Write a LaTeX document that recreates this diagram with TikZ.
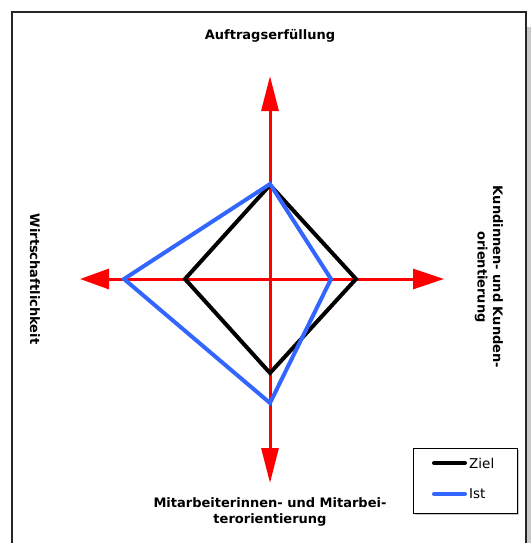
\documentclass[tikz,border=0pt]{standalone}
\usepackage{fontspec}
\setmainfont{DejaVu Sans}
\usetikzlibrary{positioning,arrows.meta}
\definecolor{axisred}{HTML}{FF0000}
\definecolor{istblue}{HTML}{3366FF}
\definecolor{shadowgray}{HTML}{C8C8C8}

\tikzset{
    axisline/.style={draw=axisred, line width=3pt},
    ziel/.style={draw=black, line width=4pt, miter limit=10},
    ist/.style={draw=istblue, line width=4pt, miter limit=10},
    axislabel/.style={font=\bfseries\fontsize{13}{15.5}\selectfont, align=center, inner sep=0pt},
    legendtext/.style={font=\fontsize{13.5}{16}\selectfont, anchor=west, inner sep=1pt}
}

\begin{document}
\begin{tikzpicture}[x=1pt, y=-1pt]
    \useasboundingbox (0,0) rectangle (531,543);

    % Frame with shadow
    \fill[shadowgray] (527,27) rectangle (531,543);
    \draw[line width=1.5pt, black!85] (12,560) -- (12,12) -- (526,12) -- (526,560);

    % Axis end points
    \coordinate (O) at (270,279);
    \coordinate (N) at (270,76);
    \coordinate (S) at (270,483);
    \coordinate (W) at (80,279);
    \coordinate (E) at (444,279);

    % Axes
    \draw[axisline, {Triangle[length=35pt,width=17pt]}-{Triangle[length=35pt,width=17pt]}] (S) -- (N);
    \draw[axisline, {Triangle[length=29pt,width=20pt]}-{Triangle[length=31pt,width=20pt]}] (W) -- (E);

    % Ziel
    \coordinate (zN) at (270,185);
    \coordinate (zE) at (356,279);
    \coordinate (zS) at (270,373);
    \coordinate (zW) at (185,279);
    \draw[ziel] (zN) -- (zE) -- (zS) -- (zW) -- cycle;

    % Ist
    \coordinate (iN) at (270,184);
    \coordinate (iE) at (331,279);
    \coordinate (iS) at (270,403);
    \coordinate (iW) at (124,279);
    \draw[ist] (iN) -- (iE) -- (iS) -- (iW) -- cycle;

    % Axis labels
    \node[axislabel] (auftrag) at (270,36) {Auftragserfüllung};
    \node[axislabel, rotate=-90] (wirtschaft) at (35,279) {Wirtschaftlichkeit};
    \node[axislabel, rotate=-90] (kunden) at (489,277) {Kundinnen- und Kunden-\\orientierung};
    \node[axislabel] (mitarbeiter) at (270,512) {Mitarbeiterinnen- und Mitarbei-\\terorientierung};

    % Legend
    \fill[shadowgray] (415,450) rectangle (519,515);
    \draw[fill=white, line width=1pt] (413,448) rectangle (517,513);
    \coordinate (zielA) at (434,463);
    \coordinate (zielB) at (465,463);
    \coordinate (istA) at (434,494);
    \coordinate (istB) at (465,494);
    \draw[ziel, line cap=round] (zielA) -- (zielB);
    \draw[ist, line cap=round] (istA) -- (istB);
    \node[legendtext, right=3pt of zielB] (zieltext) {Ziel};
    \node[legendtext, right=3pt of istB] (isttext) {Ist};
\end{tikzpicture}
\end{document}
